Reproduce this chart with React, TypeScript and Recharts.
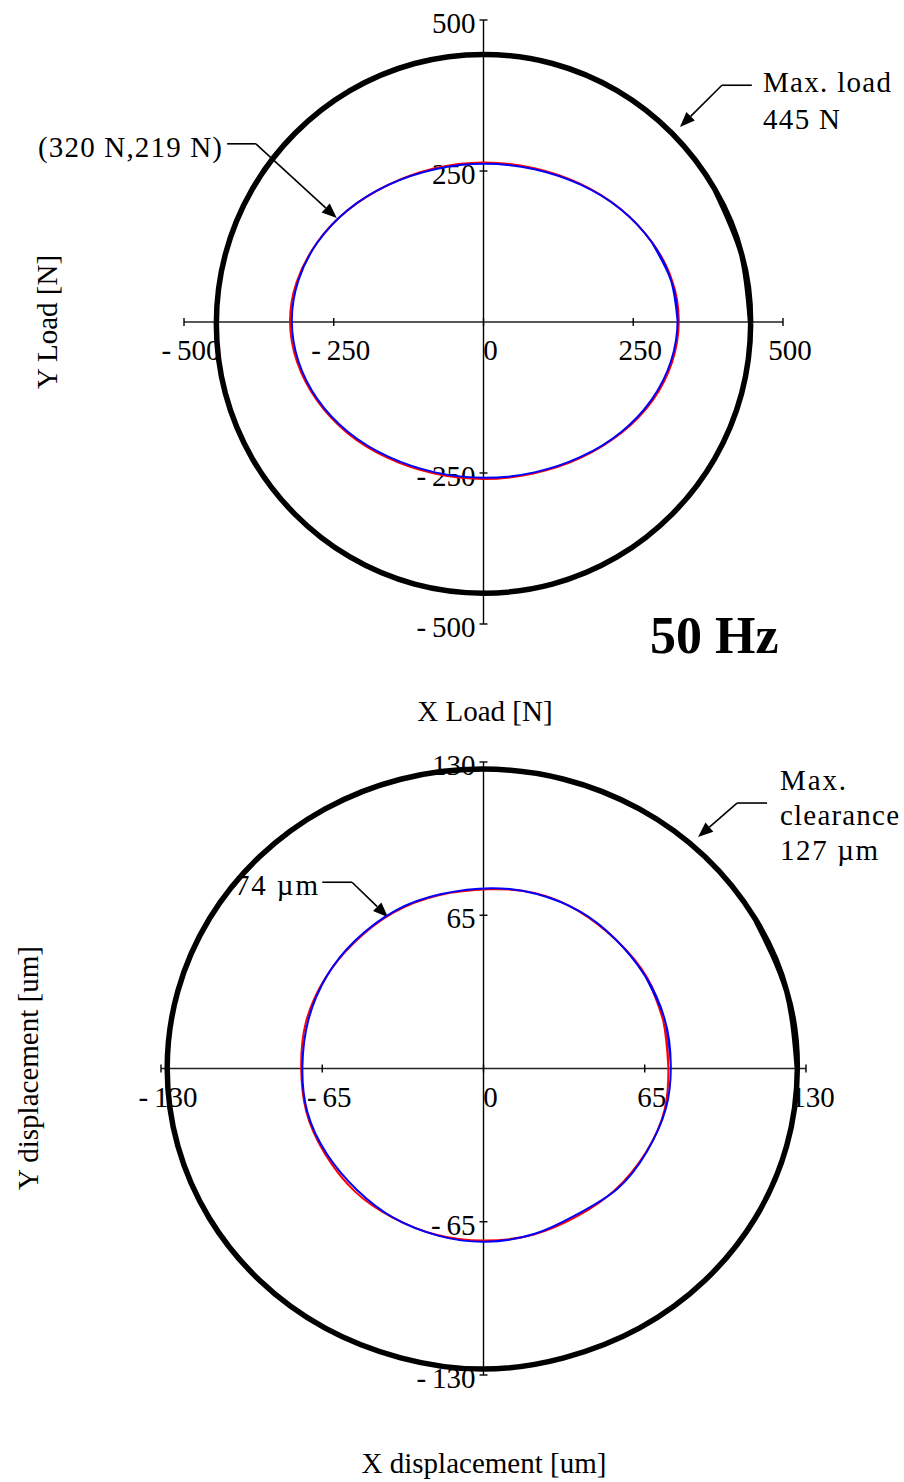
import { ScatterChart, Scatter, XAxis, YAxis, ReferenceLine, ReferenceDot } from "recharts"

const FONT = "'Liberation Serif', 'Times New Roman', Times, serif"

// ---- top plot: bearing load [N] ----
const loadTicksX = [-500, -250, 0, 250, 500]
const loadTicksY = [-500, -250, 250, 500]

// traces run a little past one revolution, as the recorded orbits do
const maxLoadCircle = [
  { x: 446, y: -3 }, { x: 431, y: 112 }, { x: 386, y: 220 }, { x: 315, y: 312 },
  { x: 223, y: 383 }, { x: 115, y: 428 }, { x: 0, y: 443 }, { x: -115, y: 428 },
  { x: -223, y: 383 }, { x: -315, y: 312 }, { x: -386, y: 220 }, { x: -431, y: 112 },
  { x: -446, y: -3 }, { x: -431, y: -118 }, { x: -386, y: -226 }, { x: -315, y: -318 },
  { x: -223, y: -389 }, { x: -115, y: -434 }, { x: 0, y: -449 }, { x: 115, y: -434 },
  { x: 223, y: -389 }, { x: 315, y: -318 }, { x: 386, y: -226 }, { x: 431, y: -118 },
  { x: 446, y: -3 }, { x: 431, y: 112 }, { x: 386, y: 220 },
]

const loadOrbitRed = [
  { x: 326, y: 0 }, { x: 315, y: 68 }, { x: 282, y: 131 }, { x: 229, y: 187 },
  { x: 161, y: 229 }, { x: 83, y: 255 }, { x: 0, y: 264 }, { x: -83, y: 254 },
  { x: -161, y: 226 }, { x: -228, y: 184 }, { x: -279, y: 130 }, { x: -312, y: 66 },
  { x: -323, y: 0 }, { x: -311, y: -67 }, { x: -278, y: -130 }, { x: -227, y: -184 },
  { x: -160, y: -225 }, { x: -82, y: -251 }, { x: 0, y: -260 }, { x: 83, y: -251 },
  { x: 162, y: -225 }, { x: 231, y: -183 }, { x: 283, y: -129 }, { x: 315, y: -66 },
  { x: 326, y: 0 }, { x: 315, y: 68 }, { x: 282, y: 131 },
]

const loadOrbitBlue = [
  { x: 324, y: 2 }, { x: 313, y: 69 }, { x: 281, y: 132 }, { x: 230, y: 186 },
  { x: 163, y: 227 }, { x: 85, y: 253 }, { x: 2, y: 262 }, { x: -81, y: 253 },
  { x: -159, y: 227 }, { x: -226, y: 186 }, { x: -277, y: 132 }, { x: -309, y: 69 },
  { x: -320, y: 2 }, { x: -309, y: -65 }, { x: -277, y: -128 }, { x: -226, y: -182 },
  { x: -159, y: -223 }, { x: -81, y: -249 }, { x: 2, y: -258 }, { x: 85, y: -249 },
  { x: 163, y: -223 }, { x: 230, y: -182 }, { x: 281, y: -128 }, { x: 313, y: -65 },
  { x: 324, y: 2 }, { x: 313, y: 69 }, { x: 281, y: 132 },
]

// leader lines (data units): end of horizontal, elbow, arrow tip
const loadPointLeader = [{ x: -428, y: 295 }, { x: -380, y: 295 }, { x: -245, y: 172 }]
const maxLoadLeader = [{ x: 448, y: 392 }, { x: 398, y: 392 }, { x: 328, y: 323 }]

// ---- bottom plot: journal displacement [um] ----
const dispTicksX = [-130, -65, 0, 65, 130]
const dispTicksY = [-130, -65, 65, 130]

const clearanceCircle = [
  { x: 126.5, y: 0 }, { x: 122.2, y: 32.9 }, { x: 109.5, y: 63.5 }, { x: 89.3, y: 89.8 },
  { x: 63, y: 110 }, { x: 32.4, y: 122.7 }, { x: -0.5, y: 127 }, { x: -33.4, y: 122.7 },
  { x: -64, y: 110 }, { x: -90.3, y: 89.8 }, { x: -110.5, y: 63.5 }, { x: -123.2, y: 32.9 },
  { x: -127.5, y: 0 }, { x: -123.2, y: -32.9 }, { x: -110.5, y: -63.5 }, { x: -90.3, y: -89.8 },
  { x: -64, y: -110 }, { x: -33.4, y: -122.7 }, { x: -0.5, y: -127.5 }, { x: 32.4, y: -122.7 },
  { x: 63, y: -110 }, { x: 89.3, y: -89.8 }, { x: 109.5, y: -63.5 }, { x: 122.2, y: -32.9 },
  { x: 126.5, y: 0 }, { x: 122.2, y: 32.9 }, { x: 109.5, y: 63.5 },
]

const dispOrbitRed = [
  { x: 74.5, y: 1 }, { x: 72.5, y: 20 }, { x: 66, y: 38.5 }, { x: 54, y: 54 },
  { x: 38, y: 67 }, { x: 20.5, y: 74.5 }, { x: 2, y: 76 }, { x: -18, y: 73.5 },
  { x: -36.5, y: 66 }, { x: -52, y: 53.5 }, { x: -64, y: 38 }, { x: -71.5, y: 20 },
  { x: -73.5, y: 1.5 }, { x: -71.5, y: -18 }, { x: -64, y: -36 }, { x: -52, y: -52 },
  { x: -37, y: -63 }, { x: -19, y: -70.5 }, { x: 0, y: -73 }, { x: 20, y: -70.5 },
  { x: 38, y: -62.5 }, { x: 53, y: -51.5 }, { x: 65.5, y: -35.5 }, { x: 73, y: -17.5 },
  { x: 74.5, y: 1 }, { x: 72.5, y: 20 }, { x: 66, y: 38.5 },
]

const dispOrbitBlue = [
  { x: 75.5, y: 1.5 }, { x: 73, y: 21 }, { x: 65, y: 39.5 }, { x: 53, y: 55 },
  { x: 39, y: 66.5 }, { x: 21.5, y: 74 }, { x: 3, y: 76.5 }, { x: -17, y: 74 },
  { x: -35.5, y: 67 }, { x: -51.5, y: 54.5 }, { x: -63, y: 39.5 }, { x: -70.5, y: 21 },
  { x: -73, y: 1 }, { x: -71, y: -18.5 }, { x: -63, y: -36.5 }, { x: -51, y: -51.5 },
  { x: -36, y: -63.5 }, { x: -18, y: -71 }, { x: 1, y: -73.5 }, { x: 21, y: -70 },
  { x: 37.5, y: -62 }, { x: 54, y: -51 }, { x: 66, y: -35 }, { x: 73.5, y: -17 },
  { x: 75.5, y: 1.5 }, { x: 73, y: 21 }, { x: 65, y: 39.5 },
]

const orbitLeader = [{ x: -65, y: 79 }, { x: -53, y: 79 }, { x: -38.5, y: 64.2 }]
const clearanceLeader = [{ x: 114.3, y: 112.6 }, { x: 102.2, y: 112.6 }, { x: 86.5, y: 98.2 }]

const fmt = (v: number) => (v < 0 ? `-\u2009${Math.abs(v)}` : `${v}`)

function XTick({ cx, cy, text }: any) {
  return (
    <g>
      <line x1={cx} y1={cy - 4} x2={cx} y2={cy + 4} stroke="#000" strokeWidth={1.4} />
      <text x={cx + 7} y={cy + 38} textAnchor="middle" fontFamily={FONT} fontSize={29} fill="#000">
        {text}
      </text>
    </g>
  )
}

function YTick({ cx, cy, text }: any) {
  return (
    <g>
      <line x1={cx - 4} y1={cy} x2={cx + 4} y2={cy} stroke="#000" strokeWidth={1.4} />
      <text x={cx - 8} y={cy + 13} textAnchor="end" fontFamily={FONT} fontSize={29} fill="#000">
        {text}
      </text>
    </g>
  )
}

// leader line with a filled arrow head at (x2, y2)
function ArrowShape(props: any) {
  const { x1, y1, x2, y2 } = props
  const ang = Math.atan2(y2 - y1, x2 - x1)
  const len = 15
  const half = 6
  const bx = x2 - len * Math.cos(ang)
  const by = y2 - len * Math.sin(ang)
  const px = -Math.sin(ang) * half
  const py = Math.cos(ang) * half
  return (
    <g>
      <line x1={x1} y1={y1} x2={bx} y2={by} stroke="#000" strokeWidth={1.6} />
      <polygon points={`${x2},${y2} ${bx + px},${by + py} ${bx - px},${by - py}`} fill="#000" />
    </g>
  )
}

const noDot = () => <g />

function OrbitPlot({ width, height, margin, range, xTicks, yTicks, outer, red, blue, leaders }: any) {
  return (
    <ScatterChart width={width} height={height} margin={margin}>
      <XAxis type="number" dataKey="x" domain={[-range, range]} hide />
      <YAxis type="number" dataKey="y" domain={[-range, range]} hide />
      <ReferenceLine y={0} stroke="#222" strokeWidth={1.6} />
      <ReferenceLine x={0} stroke="#000" strokeWidth={1.4} />
      {xTicks.map((v: number) => (
        <ReferenceDot key={`x${v}`} x={v} y={0} r={4} ifOverflow="visible"
          shape={(p: any) => <XTick cx={p.cx} cy={p.cy} text={fmt(v)} />} />
      ))}
      {yTicks.map((v: number) => (
        <ReferenceDot key={`y${v}`} x={0} y={v} r={4} ifOverflow="visible"
          shape={(p: any) => <YTick cx={p.cx} cy={p.cy} text={fmt(v)} />} />
      ))}
      <Scatter data={outer} fill="#000" line={{ stroke: "#000", strokeWidth: 5.5 }}
        lineJointType="natural" shape={noDot} isAnimationActive={false} />
      <Scatter data={red} fill="#ff0000" line={{ stroke: "#ff0000", strokeWidth: 2 }}
        lineJointType="natural" shape={noDot} isAnimationActive={false} />
      <Scatter data={blue} fill="#0000ff" line={{ stroke: "#0000ff", strokeWidth: 2 }}
        lineJointType="natural" shape={noDot} isAnimationActive={false} />
      {leaders.map((l: any[], i: number) => (
        <ReferenceLine key={`h${i}`} segment={[l[0], l[1]]} stroke="#000" strokeWidth={1.6} ifOverflow="visible" />
      ))}
      {leaders.map((l: any[], i: number) => (
        <ReferenceLine key={`a${i}`} segment={[l[1], l[2]]} ifOverflow="visible" shape={ArrowShape} />
      ))}
    </ScatterChart>
  )
}

export default function App() {
  const t = { fontFamily: FONT, fill: "#000" }
  return (
    <div style={{ position: "absolute", left: 0, top: 0, width: 904, height: 1482, background: "#fff" }}>
      <div style={{ position: "absolute", left: 0, top: 0 }}>
        <OrbitPlot width={904} height={660} margin={{ top: 20, right: 121, bottom: 36, left: 184 }}
          range={500} xTicks={loadTicksX} yTicks={loadTicksY}
          outer={maxLoadCircle} red={loadOrbitRed} blue={loadOrbitBlue}
          leaders={[loadPointLeader, maxLoadLeader]} />
      </div>
      <div style={{ position: "absolute", left: 0, top: 740 }}>
        <OrbitPlot width={904} height={700} margin={{ top: 22, right: 98, bottom: 65, left: 161 }}
          range={130} xTicks={dispTicksX} yTicks={dispTicksY}
          outer={clearanceCircle} red={dispOrbitRed} blue={dispOrbitBlue}
          leaders={[orbitLeader, clearanceLeader]} />
      </div>
      <svg width={904} height={1482} style={{ position: "absolute", left: 0, top: 0, pointerEvents: "none" }}>
        <text {...t} fontSize={29} x={57} y={322} textAnchor="middle" transform="rotate(-90 57 322)">Y Load [N]</text>
        <text {...t} fontSize={29} x={485} y={721} textAnchor="middle">X Load [N]</text>
        <text {...t} fontSize={52} fontWeight="bold" x={650} y={653}>50 Hz</text>
        <text {...t} fontSize={29} x={38} y={157} textLength={184} lengthAdjust="spacing">(320 N,219 N)</text>
        <text {...t} fontSize={29} x={763} y={92} textLength={128} lengthAdjust="spacing">Max. load</text>
        <text {...t} fontSize={29} x={763} y={129} textLength={77} lengthAdjust="spacing">445 N</text>

        <text {...t} fontSize={29} x={38} y={1068} textAnchor="middle" transform="rotate(-90 38 1068)">Y displacement [um]</text>
        <text {...t} fontSize={29} x={484} y={1473} textAnchor="middle">X displacement [um]</text>
        <text {...t} fontSize={29} x={235} y={895} textLength={83} lengthAdjust="spacing">74 µm</text>
        <text {...t} fontSize={29} x={780} y={790} textLength={66} lengthAdjust="spacing">Max.</text>
        <text {...t} fontSize={29} x={780} y={825} textLength={119} lengthAdjust="spacing">clearance</text>
        <text {...t} fontSize={29} x={780} y={860} textLength={98} lengthAdjust="spacing">127 µm</text>
      </svg>
    </div>
  )
}
